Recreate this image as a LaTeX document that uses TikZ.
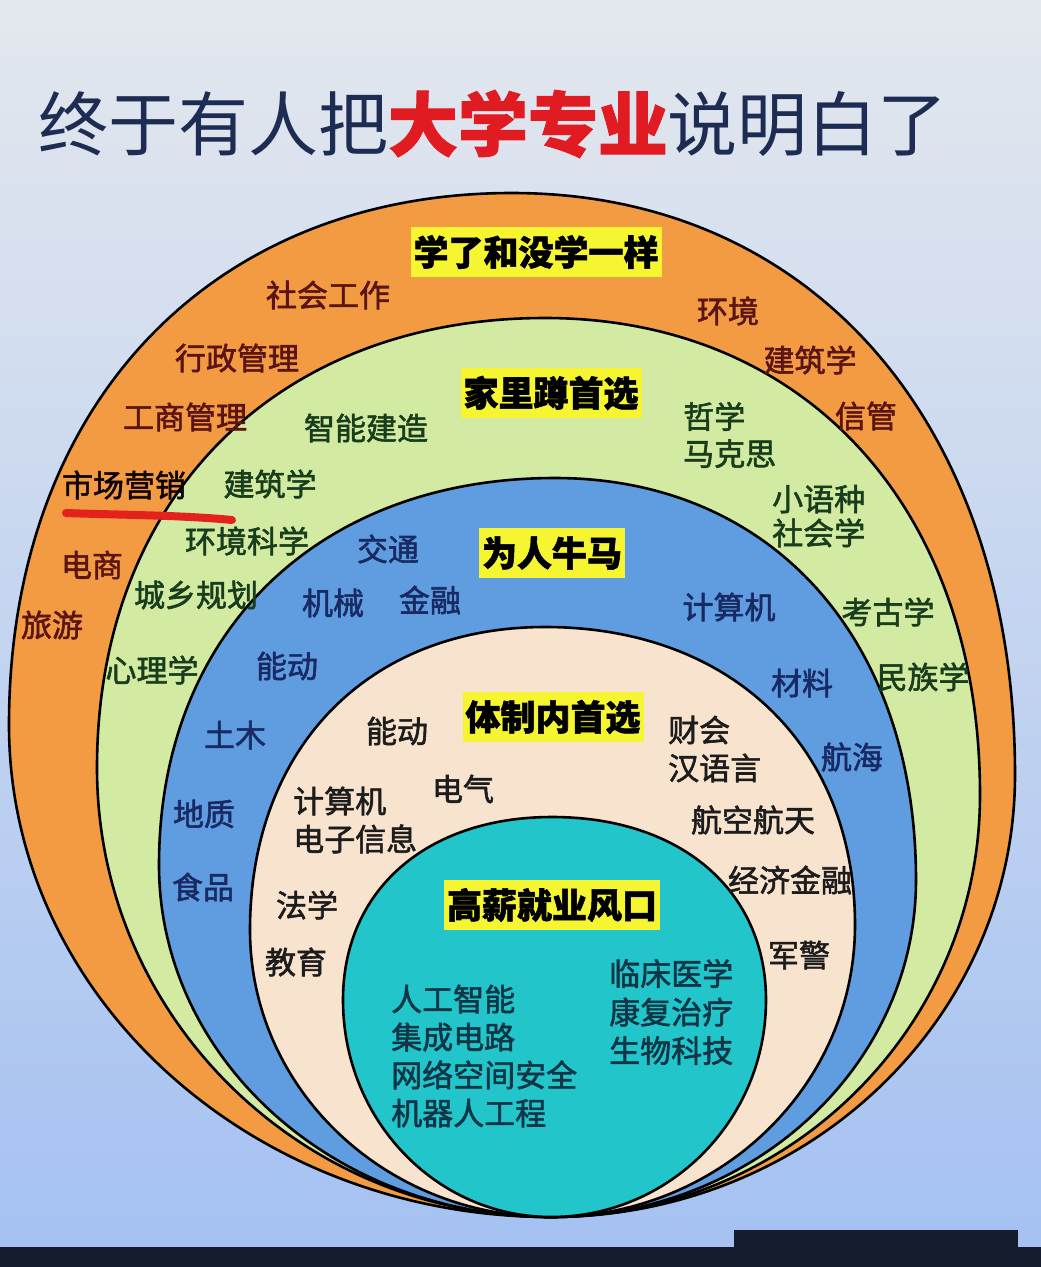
\documentclass[tikz,border=0pt]{standalone}
\usepackage{fontspec}
\usepackage{tikz}
\usetikzlibrary{calc}
\newfontfamily\cjk{Noto Sans CJK SC}
\newfontfamily\cjkmid{Noto Sans CJK SC}[FakeBold=1.8]
\newfontfamily\cjkheavy{Noto Sans CJK SC}[BoldFeatures={FakeBold=1.5}]
\definecolor{skytop}{HTML}{E4E8EE}
\definecolor{skymid}{HTML}{C6D5EC}
\definecolor{skybot}{HTML}{A4C1F2}
\definecolor{barnavy}{HTML}{151C2B}
\definecolor{titlenavy}{HTML}{1D2C52}
\definecolor{titlered}{HTML}{E01B22}
\definecolor{markred}{HTML}{E3221E}
\definecolor{ringorange}{HTML}{F29B42}
\definecolor{ringgreen}{HTML}{D3EAA2}
\definecolor{ringblue}{HTML}{5F9CE0}
\definecolor{ringcream}{HTML}{F8E3CF}
\definecolor{ringteal}{HTML}{22C5C9}
\definecolor{tagyellow}{HTML}{F6F532}
\definecolor{txtorange}{HTML}{5B1414}
\definecolor{txtgreen}{HTML}{173D1C}
\definecolor{txtblue}{HTML}{182A63}
\definecolor{txtcream}{HTML}{1C1C1C}
\definecolor{txtteal}{HTML}{0F3546}
\tikzset{
    ring/.style={draw=black, line width=2.6pt},
    major/.style={font=\cjkmid\fontsize{31}{37}\selectfont, inner sep=0pt, align=left},
    tag/.style={fill=tagyellow, text=black, font=\cjkheavy\bfseries\fontsize{35}{40}\selectfont, inner xsep=3pt, inner ysep=0pt, minimum height=50pt},
    title/.style={font=\cjk\fontsize{70}{80}\selectfont, text=titlenavy, inner sep=0pt}
}
\newcommand{\eggtop}{0.6}
\newcommand{\eggbot}{0.5523}
\newcommand{\ringshape}[2]{%
    \filldraw[ring, fill=#2] (#1T)
        .. controls ($(#1T)!\eggtop!(#1T -| #1L)$) and ($(#1L)!\eggtop!(#1T -| #1L)$) .. (#1L)
        .. controls ($(#1L)!\eggbot!(#1L |- #1B)$) and ($(#1B)!\eggbot!(#1L |- #1B)$) .. (#1B)
        .. controls ($(#1B)!\eggbot!(#1B -| #1R)$) and ($(#1R)!\eggbot!(#1B -| #1R)$) .. (#1R)
        .. controls ($(#1R)!\eggtop!(#1R |- #1T)$) and ($(#1T)!\eggtop!(#1R |- #1T)$) .. cycle;}

\begin{document}
\begin{tikzpicture}[x=1pt, y=-1pt]
    \shade[top color=skytop, middle color=skymid, bottom color=skybot] (0,0) rectangle (1041,1267);
    \useasboundingbox (0,0) rectangle (1041,1267);

    \node[title] (title) at (493,124) {终于有人把{\cjkheavy\bfseries\color{titlered}大学专业}说明白了};

    \coordinate (oT) at (512,193);  \coordinate (oL) at (9,725);    \coordinate (oB) at (551,1217); \coordinate (oR) at (1015,775);
    \coordinate (gT) at (545,318);  \coordinate (gL) at (97,768);   \coordinate (gB) at (551,1217); \coordinate (gR) at (980,795);
    \coordinate (bT) at (555,478);  \coordinate (bL) at (159,865);  \coordinate (bB) at (551,1217); \coordinate (bR) at (916,880);
    \coordinate (cT) at (545,627);  \coordinate (cL) at (250,930);  \coordinate (cB) at (551,1217); \coordinate (cR) at (855,925);
    \coordinate (tT) at (552,817);  \coordinate (tL) at (343,1000); \coordinate (tB) at (551,1217); \coordinate (tR) at (766,1000);

    \ringshape{o}{ringorange}
    \ringshape{g}{ringgreen}
    \ringshape{b}{ringblue}
    \ringshape{c}{ringcream}
    \ringshape{t}{ringteal}

    \node[tag] (tagA) at (536,252) {学了和没学一样};
    \node[tag] (tagB) at (551,393) {家里蹲首选};
    \node[tag] (tagC) at (552,553) {为人牛马};
    \node[tag] (tagD) at (553,717) {体制内首选};
    \node[tag] (tagE) at (552,905) {高薪就业风口};

    \node[major, text=txtorange] (shehui) at (328,295) {社会工作};
    \node[major, text=txtorange] (xingzheng) at (237,358) {行政管理};
    \node[major, text=txtorange] (gongshang) at (185,417) {工商管理};
    \node[major, text=black!85!txtorange] (shichang) at (124,485) {市场营销};
    \node[major, text=txtorange] (dianshang) at (92,565) {电商};
    \node[major, text=txtorange] (lvyou) at (52,625) {旅游};
    \node[major, text=txtorange] (huanjing) at (728,311) {环境};
    \node[major, text=txtorange] (jianzhu) at (810,360) {建筑学};
    \node[major, text=txtorange] (xinguan) at (866,416) {信管};

    \coordinate (ulA) at (66,513);
    \coordinate (ulB) at (232,520);
    \draw[markred, line width=8pt, line cap=round] (ulA) .. controls (120,515) and (180,515) .. (ulB);

    \node[major, text=txtgreen] (zhineng) at (366,428) {智能建造};
    \node[major, text=txtgreen] (jianzhuB) at (270,484) {建筑学};
    \node[major, text=txtgreen] (huanke) at (247,541) {环境科学};
    \node[major, text=txtgreen] (chengxiang) at (196,595) {城乡规划};
    \node[major, text=txtgreen] (xinli) at (152,670) {心理学};
    \node[major, text=txtgreen, anchor=west] (zhexue) at (683,435) {哲学\\马克思};
    \node[major, text=txtgreen, anchor=west, font=\cjkmid\fontsize{31}{34}\selectfont] (xiaoyu) at (772,516) {小语种\\社会学};
    \node[major, text=txtgreen] (kaogu) at (888,612) {考古学};
    \node[major, text=txtgreen] (minzu) at (923,677) {民族学};

    \node[major, text=txtblue] (jiaotong) at (388,549) {交通};
    \node[major, text=txtblue] (jixie) at (333,603) {机械};
    \node[major, text=txtblue] (jinrong) at (430,600) {金融};
    \node[major, text=txtblue] (nengdong) at (287,666) {能动};
    \node[major, text=txtblue] (tumu) at (235,735) {土木};
    \node[major, text=txtblue] (dizhi) at (204,814) {地质};
    \node[major, text=txtblue] (shipin) at (203,887) {食品};
    \node[major, text=txtblue] (jisuanji) at (729,607) {计算机};
    \node[major, text=txtblue] (cailiao) at (802,683) {材料};
    \node[major, text=txtblue] (hanghai) at (852,757) {航海};

    \node[major, text=txtcream] (nengdongB) at (397,731) {能动};
    \node[major, text=txtcream] (dianqi) at (463,789) {电气};
    \node[major, text=txtcream, anchor=west, font=\cjkmid\fontsize{31}{38}\selectfont] (jisuan) at (293,820) {计算机\\电子信息};
    \node[major, text=txtcream] (faxue) at (307,905) {法学};
    \node[major, text=txtcream] (jiaoyu) at (296,962) {教育};
    \node[major, text=txtcream, anchor=west, font=\cjkmid\fontsize{31}{38}\selectfont] (caihui) at (668,749) {财会\\汉语言};
    \node[major, text=txtcream] (hangkong) at (753,820) {航空航天};
    \node[major, text=txtcream] (jingji) at (790,880) {经济金融};
    \node[major, text=txtcream] (junjing) at (799,955) {军警};

    \node[major, text=txtteal, anchor=west, font=\cjkmid\fontsize{31}{38}\selectfont] (gongke) at (391,1056) {人工智能\\集成电路\\网络空间安全\\机器人工程};
    \node[major, text=txtteal, anchor=west, font=\cjkmid\fontsize{31}{38.5}\selectfont] (yixue) at (609,1012) {临床医学\\康复治疗\\生物科技};

    \fill[barnavy] (0,1247) rectangle (1041,1267);
    \fill[barnavy] (734,1230) rectangle (1018,1247);
\end{tikzpicture}
\end{document}
